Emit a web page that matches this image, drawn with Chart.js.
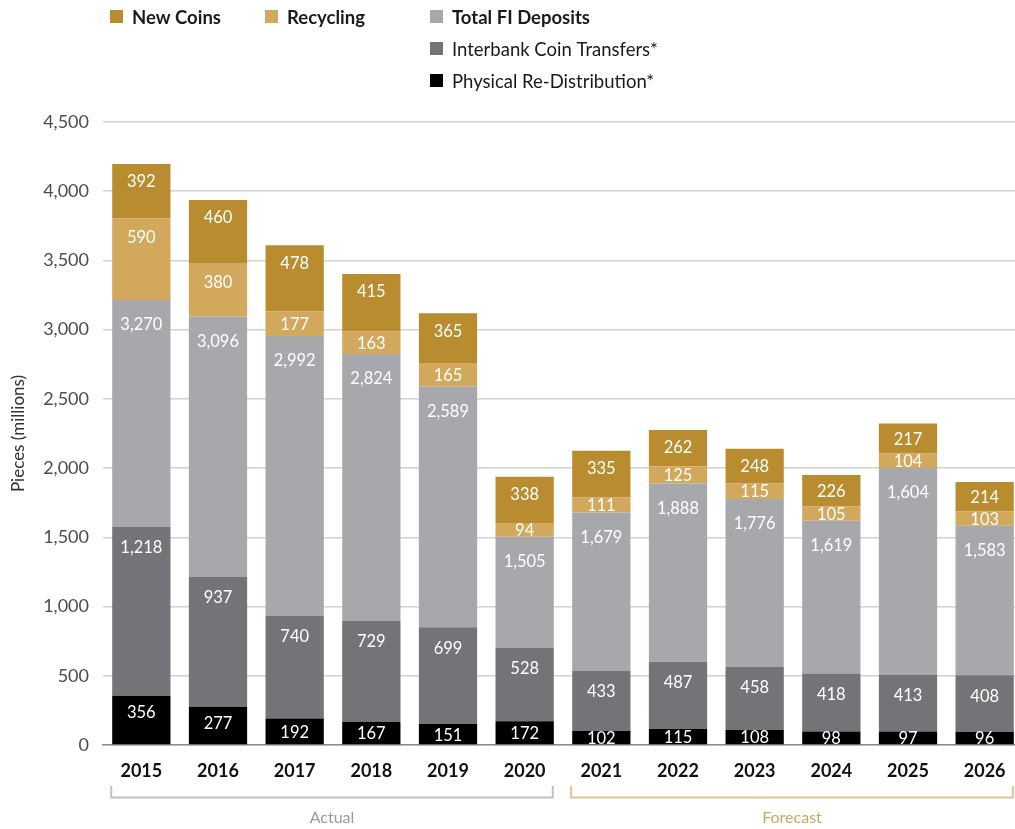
<!DOCTYPE html>
<html>
<head>
<meta charset="utf-8">
<title>Coin flows</title>
<script src="https://cdn.jsdelivr.net/npm/chart.js@4"></script>
<style>
  html, body { margin: 0; padding: 0; background: #fff; overflow: hidden; }
  #wrap { position: relative; width: 1023px; height: 829px; }
</style>
</head>
<body>
<div id="wrap"><canvas id="coinChart" width="1023" height="829"></canvas></div>
<script>
const years = ['2015', '2016', '2017', '2018', '2019', '2020', '2021', '2022', '2023', '2024', '2025', '2026'];

// Values printed on the bars (millions of pieces)
const physicalRedistribution = [356, 277, 192, 167, 151, 172, 102, 115, 108, 98, 97, 96];
const interbankTransfers = [1218, 937, 740, 729, 699, 528, 433, 487, 458, 418, 413, 408];
const totalFiDeposits = [3270, 3096, 2992, 2824, 2589, 1505, 1679, 1888, 1776, 1619, 1604, 1583];
const recycling = [590, 380, 177, 163, 165, 94, 111, 125, 115, 105, 104, 103];
const newCoins = [392, 460, 478, 415, 365, 338, 335, 262, 248, 226, 217, 214];

// Top of the light grey block as drawn in the source (differs from its label in 2015, 2017, 2025)
const depositsBarTop = [3214, 3096, 2955, 2824, 2589, 1505, 1679, 1888, 1776, 1619, 2001, 1583];

const yTicks = [0, 500, 1000, 1500, 2000, 2500, 3000, 3500, 4000, 4500];

const depositsBlock = depositsBarTop.map((v, i) => v - physicalRedistribution[i] - interbankTransfers[i]);

const FONT = 'Lato, "Open Sans", sans-serif';
const fmt = v => v.toLocaleString('en-US');

// White value labels inside each block
const valueLabels = {
  id: 'valueLabels',
  afterDatasetsDraw(chart) {
    const ctx = chart.ctx;
    ctx.save();
    ctx.fillStyle = '#fff';
    ctx.font = '16.5px ' + FONT;
    ctx.textAlign = 'center';
    ctx.textBaseline = 'middle';
    chart.data.datasets.forEach((ds, di) => {
      chart.getDatasetMeta(di).data.forEach((bar, i) => {
        const h = bar.base - bar.y;
        const y = bar.y + Math.min(h / 2, ds.labelOffset);
        ctx.fillText(fmt(ds.labelValues[i]), bar.x, y + 1);
      });
    });
    ctx.restore();
  }
};

// Legend at the top and the Actual / Forecast brackets under the axis
const extras = {
  id: 'extras',
  afterDraw(chart) {
    const ctx = chart.ctx;
    ctx.save();
    ctx.textBaseline = 'middle';
    ctx.textAlign = 'left';
    const items = [
      { text: 'New Coins', color: '#B98D2F', x: 110, y: 17, bold: true },
      { text: 'Recycling', color: '#D2A85C', x: 265, y: 17, bold: true },
      { text: 'Total FI Deposits', color: '#A7A8AC', x: 430, y: 17, bold: true },
      { text: 'Interbank Coin Transfers*', color: '#737477', x: 430, y: 49, bold: false },
      { text: 'Physical Re-Distribution*', color: '#000', x: 430, y: 81, bold: false }
    ];
    items.forEach(it => {
      ctx.fillStyle = it.color;
      ctx.fillRect(it.x, it.y - 7, 13, 13);
      ctx.fillStyle = '#1a1a1a';
      ctx.font = (it.bold ? 'bold ' : '') + '18.5px ' + FONT;
      ctx.fillText(it.text, it.x + 22, it.y + 1);
    });

    const xs = chart.scales.x;
    const half = chart.getDatasetMeta(0).data[0].width / 2;
    const brackets = [
      { from: 0, to: 5, label: 'Actual', line: '#c3bec6', text: '#9a9a9a' },
      { from: 6, to: 11, label: 'Forecast', line: '#dcc592', text: '#c8a865' }
    ];
    const yLine = 797.5, yTop = 786;
    brackets.forEach(b => {
      const x0 = xs.getPixelForValue(b.from) - half - 1;
      const x1 = xs.getPixelForValue(b.to) + half - 1;
      ctx.strokeStyle = b.line;
      ctx.lineWidth = 2;
      ctx.beginPath();
      ctx.moveTo(x0, yTop);
      ctx.lineTo(x0, yLine);
      ctx.lineTo(x1, yLine);
      ctx.lineTo(x1, yTop);
      ctx.stroke();
      ctx.fillStyle = b.text;
      ctx.font = '16px ' + FONT;
      ctx.textAlign = 'center';
      ctx.fillText(b.label, (x0 + x1) / 2, 818);
    });
    ctx.restore();
  }
};

const ctx = document.getElementById('coinChart').getContext('2d');
new Chart(ctx, {
  type: 'bar',
  data: {
    labels: years,
    datasets: [
      { label: 'Physical Re-Distribution*', data: physicalRedistribution, labelValues: physicalRedistribution, labelOffset: 16, backgroundColor: '#000000' },
      { label: 'Interbank Coin Transfers*', data: interbankTransfers, labelValues: interbankTransfers, labelOffset: 20, backgroundColor: '#737477' },
      { label: 'Total FI Deposits', data: depositsBlock, labelValues: totalFiDeposits, labelOffset: 24, backgroundColor: '#A7A8AC' },
      { label: 'Recycling', data: recycling, labelValues: recycling, labelOffset: 18, backgroundColor: '#D2A85C' },
      { label: 'New Coins', data: newCoins, labelValues: newCoins, labelOffset: 17, backgroundColor: '#B98D2F' }
    ]
  },
  options: {
    responsive: false,
    animation: false,
    devicePixelRatio: 1,
    layout: { padding: { top: 122, left: 0, right: 0, bottom: 0 } },
    datasets: { bar: { barPercentage: 0.76, categoryPercentage: 1, borderWidth: 0 } },
    plugins: { legend: { display: false }, tooltip: { enabled: false } },
    scales: {
      x: {
        stacked: true,
        grid: { display: false },
        border: { color: '#8c8c8c', width: 1.5 },
        ticks: { color: '#111', font: { family: FONT, size: 18, weight: 'bold' }, padding: 7 },
        afterFit: s => { s.height = 84; }
      },
      y: {
        stacked: true,
        min: 0,
        max: 4500,
        afterBuildTicks: s => { s.ticks = yTicks.map(v => ({ value: v })); },
        ticks: { color: '#4d4d4d', font: { family: FONT, size: 18 }, padding: 14, callback: v => fmt(v) },
        grid: { color: '#d2d2d2', lineWidth: 1.5, drawTicks: false },
        border: { display: false },
        title: { display: true, text: 'Pieces (millions)', color: '#333', font: { family: FONT, size: 17 }, padding: { top: 8, bottom: 0 } },
        afterFit: s => { s.width = 103; }
      }
    }
  },
  plugins: [valueLabels, extras]
});
</script>
</body>
</html>
